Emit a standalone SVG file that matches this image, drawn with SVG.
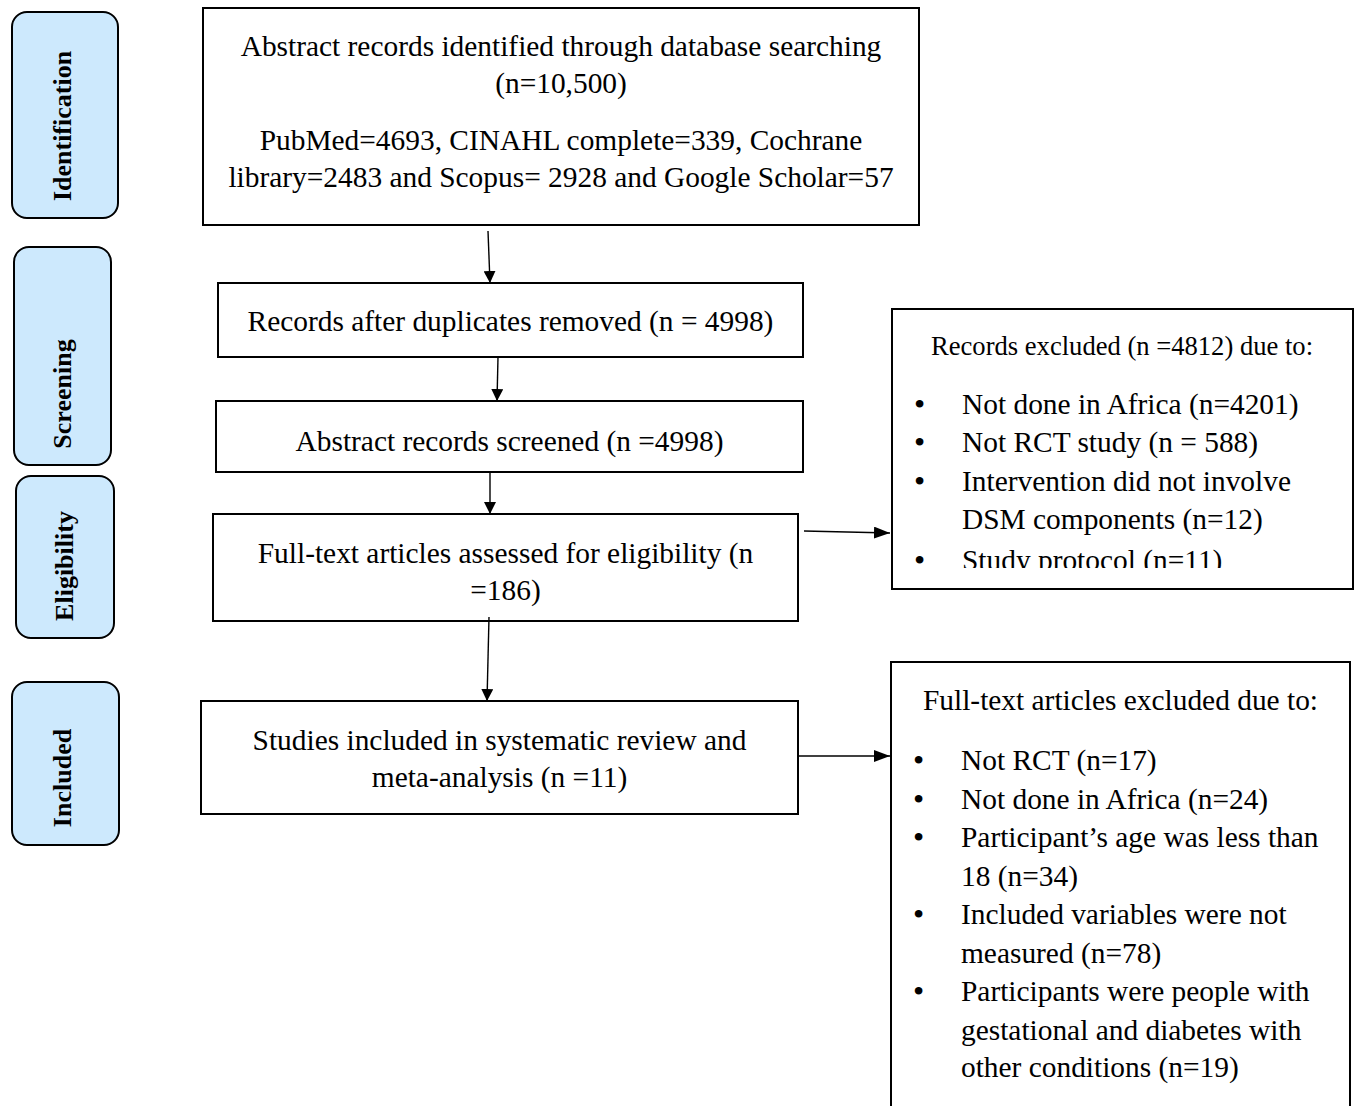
<svg xmlns="http://www.w3.org/2000/svg" width="1356" height="1106" viewBox="0 0 1356 1106">
<style>
.box{fill:#fff;stroke:#000;stroke-width:2}
.stage{fill:#cde9fd;stroke:#000;stroke-width:2}
.t{font-family:"Liberation Serif","Times New Roman",serif;font-size:29.4px;fill:#000}
.c{text-anchor:middle}
.h1{font-size:26.6px}
.b{font-family:"Liberation Serif","Times New Roman",serif;font-size:32px;fill:#000}
.lab{font-family:"Liberation Serif","Times New Roman",serif;font-size:26px;font-weight:bold;fill:#000;text-anchor:middle;dominant-baseline:central}
.ln{stroke:#000;stroke-width:1.4;fill:none}
</style>
<defs>
<marker id="ah" viewBox="0 0 10 10" refX="10" refY="5" markerWidth="12" markerHeight="12" markerUnits="userSpaceOnUse" orient="auto">
<path d="M0,0 L10,5 L0,10 z" fill="#000"/>
</marker>
<marker id="ah2" viewBox="0 0 16 12" refX="16" refY="6" markerWidth="16" markerHeight="12" markerUnits="userSpaceOnUse" orient="auto">
<path d="M0,0 L16,6 L0,12 z" fill="#000"/>
</marker>
<clipPath id="clip1"><rect x="893" y="310" width="460" height="258"/></clipPath>
</defs>

<g id="stage-identification">
<rect class="stage" x="12" y="12" width="106" height="206" rx="15"/>
<text class="lab" transform="translate(62,126) rotate(-90)">Identification</text>
</g>
<g id="stage-screening">
<rect class="stage" x="14" y="247" width="97" height="218" rx="15"/>
<text class="lab" transform="translate(62,394) rotate(-90)">Screening</text>
</g>
<g id="stage-eligibility">
<rect class="stage" x="16" y="476" width="98" height="162" rx="15"/>
<text class="lab" transform="translate(64,566) rotate(-90)">Eligibility</text>
</g>
<g id="stage-included">
<rect class="stage" x="12" y="682" width="107" height="163" rx="15"/>
<text class="lab" transform="translate(62,778) rotate(-90)">Included</text>
</g>

<g id="identified">
<rect class="box" x="203" y="8" width="716" height="217"/>
<text class="t c" x="561" y="56">Abstract records identified through database searching</text>
<text class="t c" x="561" y="93">(n=10,500)</text>
<text class="t c" x="561" y="150">PubMed=4693, CINAHL complete=339, Cochrane</text>
<text class="t c" x="561" y="187">library=2483 and Scopus= 2928 and Google Scholar=57</text>
</g>

<g id="deduplicated">
<rect class="box" x="218" y="283" width="585" height="74"/>
<text class="t c" x="510.5" y="331">Records after duplicates removed (n = 4998)</text>
</g>

<g id="screened">
<rect class="box" x="216" y="401" width="587" height="71"/>
<text class="t c" x="509.5" y="451">Abstract records screened (n =4998)</text>
</g>

<g id="fulltext">
<rect class="box" x="213" y="514" width="585" height="107"/>
<text class="t c" x="505.5" y="563">Full-text articles assessed for eligibility (n</text>
<text class="t c" x="505.5" y="600">=186)</text>
</g>

<g id="included">
<rect class="box" x="201" y="701" width="597" height="113"/>
<text class="t c" x="499.5" y="750">Studies included in systematic review and</text>
<text class="t c" x="499.5" y="787">meta-analysis (n =11)</text>
</g>

<g id="records-excluded">
<rect class="box" x="892" y="309" width="461" height="280"/>
<g clip-path="url(#clip1)">
<text class="t h1" x="931" y="355">Records excluded (n =4812) due to:</text>
<text class="b" x="914" y="415">•</text><text class="t" x="962" y="414">Not done in Africa (n=4201)</text>
<text class="b" x="914" y="453">•</text><text class="t" x="962" y="452">Not RCT study (n = 588)</text>
<text class="b" x="914" y="492">•</text><text class="t" x="962" y="491">Intervention did not involve</text>
<text class="t" x="962" y="529">DSM components (n=12)</text>
<text class="b" x="914" y="571">•</text><text class="t" x="962" y="570">Study protocol (n=11)</text>
</g>
</g>

<g id="fulltext-excluded">
<rect class="box" x="891" y="662" width="459" height="460"/>
<text class="t" x="923" y="710">Full-text articles excluded due to:</text>
<text class="b" x="913" y="771">•</text><text class="t" x="961" y="770">Not RCT (n=17)</text>
<text class="b" x="913" y="810">•</text><text class="t" x="961" y="809">Not done in Africa (n=24)</text>
<text class="b" x="913" y="848">•</text><text class="t" x="961" y="847">Participant’s age was less than</text>
<text class="t" x="961" y="886">18 (n=34)</text>
<text class="b" x="913" y="925">•</text><text class="t" x="961" y="924">Included variables were not</text>
<text class="t" x="961" y="963">measured (n=78)</text>
<text class="b" x="913" y="1002">•</text><text class="t" x="961" y="1001">Participants were people with</text>
<text class="t" x="961" y="1040">gestational and diabetes with</text>
<text class="t" x="961" y="1077">other conditions (n=19)</text>
</g>

<g id="connectors">
<line class="ln" x1="488" y1="231" x2="490" y2="283" marker-end="url(#ah)"/>
<line class="ln" x1="498" y1="357" x2="497" y2="401" marker-end="url(#ah)"/>
<line class="ln" x1="490" y1="472" x2="490" y2="514" marker-end="url(#ah)"/>
<line class="ln" x1="489" y1="617" x2="487" y2="701" marker-end="url(#ah)"/>
<line class="ln" x1="804" y1="531" x2="890" y2="533" marker-end="url(#ah2)"/>
<line class="ln" x1="798" y1="756" x2="890" y2="756" marker-end="url(#ah2)"/>
</g>
</svg>
